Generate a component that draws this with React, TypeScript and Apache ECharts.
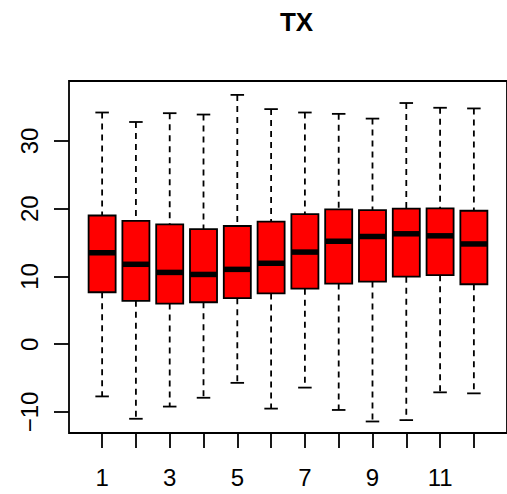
import React, { useEffect, useRef } from "react";
import * as echarts from "echarts";

const categories = [1, 2, 3, 4, 5, 6, 7, 8, 9, 10, 11, 12];
const lowerWhisker = [-7.7, -11.0, -9.2, -7.9, -5.7, -9.5, -6.4, -9.7, -11.4, -11.2, -7.1, -7.25];
const q1 = [7.67, 6.4, 6.0, 6.2, 6.8, 7.5, 8.2, 8.95, 9.25, 9.97, 10.2, 8.85];
const median = [13.5, 11.8, 10.6, 10.3, 11.05, 11.95, 13.6, 15.2, 15.9, 16.3, 16.0, 14.8];
const q3 = [19.0, 18.2, 17.7, 17.0, 17.45, 18.1, 19.2, 19.9, 19.8, 20.0, 20.05, 19.7];
const upperWhisker = [34.2, 32.8, 34.1, 33.9, 36.8, 34.7, 34.2, 34.0, 33.3, 35.6, 34.9, 34.8];
const xTickValues = [1, 2, 3, 4, 5, 6, 7, 8, 9, 10, 11, 12];
const xLabelValues = [1, 3, 5, 7, 9, 11];
const yTickValues = [-10, 0, 10, 20, 30];

const FONT = "'Liberation Sans', Arial, sans-serif";
const LW = 1.8;

export default function App() {
  const ref = useRef<HTMLDivElement>(null);
  useEffect(() => {
    if (!ref.current) return;
    const chart = echarts.init(ref.current, null, { renderer: "svg" });
    const data = categories.map((c, i) => [
      c,
      lowerWhisker[i],
      q1[i],
      median[i],
      q3[i],
      upperWhisker[i],
    ]);
    const option: any = {
      animation: false,
      backgroundColor: "#fff",
      title: {
        text: "TX",
        left: 291.5,
        top: 4,
        textAlign: "center",
        textStyle: { fontFamily: FONT, fontSize: 26, fontWeight: "bold", color: "#000" },
      },
      grid: {
        left: 69,
        top: 81,
        width: 444.5,
        height: 352,
        show: true,
        borderColor: "#000",
        borderWidth: LW,
        backgroundColor: "transparent",
      },
      xAxis: {
        type: "value",
        min: 0.02,
        max: 12.98,
        splitLine: { show: false },
        axisLine: { show: false, onZero: false },
        axisTick: {
          show: true,
          length: 15,
          customValues: xTickValues,
          lineStyle: { color: "#000", width: LW },
        },
        axisLabel: {
          customValues: xLabelValues,
          margin: 32,
          fontFamily: FONT,
          fontSize: 24,
          color: "#000",
        },
      },
      yAxis: {
        type: "value",
        min: -13.1,
        max: 38.85,
        splitLine: { show: false },
        axisLine: { show: false, onZero: false },
        axisTick: {
          show: true,
          length: 15,
          customValues: yTickValues,
          lineStyle: { color: "#000", width: LW },
        },
        axisLabel: {
          customValues: yTickValues,
          rotate: 90,
          margin: 28,
          fontFamily: FONT,
          fontSize: 24,
          color: "#000",
          formatter: (v: number) => String(v).replace("-", "\u2212"),
        },
      },
      series: [
        {
          type: "custom",
          data,
          clip: false,
          renderItem: (params: any, api: any) => {
            const x = api.value(0);
            const lo = api.value(1);
            const b1 = api.value(2);
            const md = api.value(3);
            const b3 = api.value(4);
            const hi = api.value(5);
            const hw = 0.4;
            const cw = 0.2;
            const tl = api.coord([x - hw, b3]);
            const br = api.coord([x + hw, b1]);
            const cHi = api.coord([x, hi]);
            const cB3 = api.coord([x, b3]);
            const cB1 = api.coord([x, b1]);
            const cLo = api.coord([x, lo]);
            const capL = api.coord([x - cw, hi])[0];
            const capR = api.coord([x + cw, hi])[0];
            const mL = api.coord([x - hw, md]);
            const mR = api.coord([x + hw, md]);
            const dashStyle = { stroke: "#000", lineWidth: LW, lineDash: [6, 5], fill: null };
            const solid = { stroke: "#000", lineWidth: LW, fill: null };
            return {
              type: "group",
              children: [
                { type: "line", shape: { x1: cHi[0], y1: cHi[1], x2: cB3[0], y2: cB3[1] }, style: dashStyle },
                { type: "line", shape: { x1: cB1[0], y1: cB1[1], x2: cLo[0], y2: cLo[1] }, style: dashStyle },
                { type: "line", shape: { x1: capL, y1: cHi[1], x2: capR, y2: cHi[1] }, style: solid },
                { type: "line", shape: { x1: capL, y1: cLo[1], x2: capR, y2: cLo[1] }, style: solid },
                {
                  type: "rect",
                  shape: { x: tl[0], y: tl[1], width: br[0] - tl[0], height: br[1] - tl[1] },
                  style: { fill: "#FF0000", stroke: "#000", lineWidth: LW },
                },
                {
                  type: "line",
                  shape: { x1: mL[0], y1: mL[1], x2: mR[0], y2: mR[1] },
                  style: { stroke: "#000", lineWidth: 5.5 },
                },
              ],
            };
          },
        },
      ],
    };
    chart.setOption(option);
    return () => chart.dispose();
  }, []);
  return (
    <div
      ref={ref}
      style={{ position: "fixed", left: 0, top: 0, width: 507, height: 494, background: "#fff" }}
    />
  );
}
